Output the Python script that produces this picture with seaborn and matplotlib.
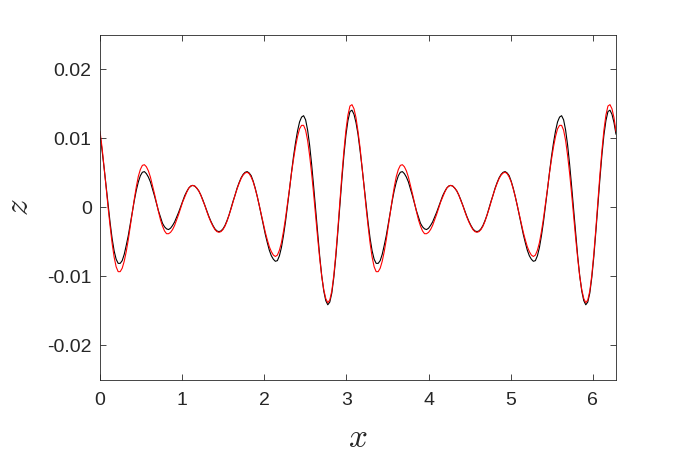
"""Two-curve wave profile z(x), MATLAB-style box axes."""

import matplotlib

matplotlib.use("Agg")
import matplotlib.pyplot as plt
import numpy as np
import pandas as pd
import seaborn as sns

# z values, equally spaced samples over x in [0, 2*pi]
z_black = [
    0.0106, 0.0083, 0.0058, 0.0031, 0.0003, -0.0022, -0.0045, -0.0063, -0.0075, -0.0081,
    -0.0081, -0.0077, -0.0068, -0.0055, -0.0041, -0.0024, -0.0007, 0.0010, 0.0025, 0.0037,
    0.0046, 0.0051, 0.0052, 0.0049, 0.0044, 0.0037, 0.0027, 0.0017, 0.0006, -0.0005,
    -0.0014, -0.0023, -0.0028, -0.0031, -0.0032, -0.0030, -0.0026, -0.0021, -0.0014, -0.0007,
    0.0001, 0.0009, 0.0017, 0.0023, 0.0028, 0.0031, 0.0032, 0.0031, 0.0028, 0.0024,
    0.0018, 0.0011, 0.0003, -0.0005, -0.0013, -0.0020, -0.0026, -0.0031, -0.0034, -0.0035,
    -0.0034, -0.0031, -0.0026, -0.0019, -0.0011, -0.0001, 0.0009, 0.0018, 0.0028, 0.0036,
    0.0043, 0.0048, 0.0051, 0.0052, 0.0050, 0.0046, 0.0038, 0.0028, 0.0016, 0.0003,
    -0.0011, -0.0025, -0.0039, -0.0051, -0.0062, -0.0070, -0.0075, -0.0078, -0.0077, -0.0070,
    -0.0058, -0.0041, -0.0021, 0.0002, 0.0026, 0.0051, 0.0074, 0.0094, 0.0111, 0.0124,
    0.0131, 0.0133, 0.0127, 0.0112, 0.0090, 0.0062, 0.0030, -0.0004, -0.0039, -0.0071,
    -0.0099, -0.0121, -0.0135, -0.0141, -0.0137, -0.0124, -0.0101, -0.0071, -0.0035, 0.0003,
    0.0041, 0.0076, 0.0105, 0.0126, 0.0139, 0.0141, 0.0135, 0.0123,
    0.0106, 0.0083, 0.0058, 0.0031, 0.0003, -0.0022, -0.0045, -0.0063, -0.0075, -0.0081,
    -0.0081, -0.0077, -0.0068, -0.0055, -0.0041, -0.0024, -0.0007, 0.0010, 0.0025, 0.0037,
    0.0046, 0.0051, 0.0052, 0.0049, 0.0044, 0.0037, 0.0027, 0.0017, 0.0006, -0.0005,
    -0.0014, -0.0023, -0.0028, -0.0031, -0.0032, -0.0030, -0.0026, -0.0021, -0.0014, -0.0007,
    0.0001, 0.0009, 0.0017, 0.0023, 0.0028, 0.0031, 0.0032, 0.0031, 0.0028, 0.0024,
    0.0018, 0.0011, 0.0003, -0.0005, -0.0013, -0.0020, -0.0026, -0.0031, -0.0034, -0.0035,
    -0.0034, -0.0031, -0.0026, -0.0019, -0.0011, -0.0001, 0.0009, 0.0018, 0.0028, 0.0036,
    0.0043, 0.0048, 0.0051, 0.0052, 0.0050, 0.0046, 0.0038, 0.0028, 0.0016, 0.0003,
    -0.0011, -0.0025, -0.0039, -0.0051, -0.0062, -0.0070, -0.0075, -0.0078, -0.0077, -0.0070,
    -0.0058, -0.0041, -0.0021, 0.0002, 0.0026, 0.0051, 0.0074, 0.0094, 0.0111, 0.0124,
    0.0131, 0.0133, 0.0127, 0.0112, 0.0090, 0.0062, 0.0030, -0.0004, -0.0039, -0.0071,
    -0.0099, -0.0121, -0.0135, -0.0141, -0.0137, -0.0124, -0.0101, -0.0071, -0.0035, 0.0003,
    0.0041, 0.0076, 0.0105, 0.0126, 0.0139, 0.0141, 0.0135, 0.0123,
    0.0106,
]
z_red = [
    0.0110, 0.0087, 0.0059, 0.0030, 0.0000, -0.0027, -0.0052, -0.0072, -0.0086, -0.0093,
    -0.0093, -0.0088, -0.0078, -0.0064, -0.0047, -0.0027, -0.0007, 0.0012, 0.0030, 0.0045,
    0.0055, 0.0061, 0.0062, 0.0059, 0.0053, 0.0044, 0.0032, 0.0020, 0.0007, -0.0006,
    -0.0018, -0.0027, -0.0034, -0.0038, -0.0038, -0.0036, -0.0032, -0.0026, -0.0018, -0.0010,
    -0.0001, 0.0008, 0.0015, 0.0022, 0.0028, 0.0031, 0.0032, 0.0031, 0.0028, 0.0024,
    0.0018, 0.0010, 0.0003, -0.0006, -0.0014, -0.0021, -0.0027, -0.0032, -0.0035, -0.0036,
    -0.0035, -0.0032, -0.0027, -0.0020, -0.0011, -0.0002, 0.0008, 0.0018, 0.0027, 0.0035,
    0.0042, 0.0047, 0.0050, 0.0051, 0.0049, 0.0044, 0.0037, 0.0027, 0.0016, 0.0003,
    -0.0010, -0.0023, -0.0036, -0.0047, -0.0057, -0.0064, -0.0069, -0.0071, -0.0069, -0.0062,
    -0.0051, -0.0035, -0.0016, 0.0005, 0.0027, 0.0050, 0.0070, 0.0088, 0.0103, 0.0114,
    0.0119, 0.0119, 0.0112, 0.0097, 0.0075, 0.0049, 0.0019, -0.0013, -0.0045, -0.0074,
    -0.0100, -0.0119, -0.0132, -0.0138, -0.0134, -0.0121, -0.0098, -0.0067, -0.0031, 0.0008,
    0.0047, 0.0082, 0.0112, 0.0134, 0.0147, 0.0149, 0.0143, 0.0130,
    0.0110, 0.0087, 0.0059, 0.0030, 0.0000, -0.0027, -0.0052, -0.0072, -0.0086, -0.0093,
    -0.0093, -0.0088, -0.0078, -0.0064, -0.0047, -0.0027, -0.0007, 0.0012, 0.0030, 0.0045,
    0.0055, 0.0061, 0.0062, 0.0059, 0.0053, 0.0044, 0.0032, 0.0020, 0.0007, -0.0006,
    -0.0018, -0.0027, -0.0034, -0.0038, -0.0038, -0.0036, -0.0032, -0.0026, -0.0018, -0.0010,
    -0.0001, 0.0008, 0.0015, 0.0022, 0.0028, 0.0031, 0.0032, 0.0031, 0.0028, 0.0024,
    0.0018, 0.0010, 0.0003, -0.0006, -0.0014, -0.0021, -0.0027, -0.0032, -0.0035, -0.0036,
    -0.0035, -0.0032, -0.0027, -0.0020, -0.0011, -0.0002, 0.0008, 0.0018, 0.0027, 0.0035,
    0.0042, 0.0047, 0.0050, 0.0051, 0.0049, 0.0044, 0.0037, 0.0027, 0.0016, 0.0003,
    -0.0010, -0.0023, -0.0036, -0.0047, -0.0057, -0.0064, -0.0069, -0.0071, -0.0069, -0.0062,
    -0.0051, -0.0035, -0.0016, 0.0005, 0.0027, 0.0050, 0.0070, 0.0088, 0.0103, 0.0114,
    0.0119, 0.0119, 0.0112, 0.0097, 0.0075, 0.0049, 0.0019, -0.0013, -0.0045, -0.0074,
    -0.0100, -0.0119, -0.0132, -0.0138, -0.0134, -0.0121, -0.0098, -0.0067, -0.0031, 0.0008,
    0.0047, 0.0082, 0.0112, 0.0134, 0.0147, 0.0149, 0.0143, 0.0130,
    0.0110,
]
x_ticks = [0, 1, 2, 3, 4, 5, 6]
y_ticks = [-0.02, -0.01, 0, 0.01, 0.02]
y_tick_labels = ["-0.02", "-0.01", "0", "0.01", "0.02"]

x = np.linspace(0, 2 * np.pi, len(z_black))
df = pd.DataFrame({"x": x, "black": z_black, "red": z_red})

sns.set_style("white")
plt.rcParams["font.family"] = ["Liberation Sans", "DejaVu Sans"]
plt.rcParams["mathtext.fontset"] = "cm"

ink = "#262626"
fig = plt.figure(figsize=(6.8, 4.54), dpi=100)
ax = fig.add_axes([0.1471, 0.163, 0.7588, 0.760])
sns.lineplot(data=df, x="x", y="black", color="black", linewidth=0.8, ax=ax)
sns.lineplot(data=df, x="x", y="red", color="red", linewidth=0.8, ax=ax)

ax.set_xlim(0, 2 * np.pi)
ax.set_ylim(-0.025, 0.025)
ax.set_xticks(x_ticks)
ax.set_xticklabels([str(t) for t in x_ticks])
ax.set_yticks(y_ticks)
ax.set_yticklabels(y_tick_labels)
ax.tick_params(direction="in", length=4, width=0.6, colors=ink, labelsize=14,
               top=True, right=True, bottom=True, left=True)
ax.tick_params(axis="x", pad=9)
ax.tick_params(axis="y", pad=6)
for sp in ax.spines.values():
    sp.set_linewidth(0.6)
    sp.set_color(ink)

ax.set_xlabel(r"$x$", fontsize=24, color=ink)
ax.set_ylabel(r"$z$", fontsize=24, color=ink)
ax.xaxis.set_label_coords(0.5, -0.125)
ax.yaxis.set_label_coords(-0.126, 0.5)

fig.savefig("out.png", dpi=100)
plt.close(fig)
